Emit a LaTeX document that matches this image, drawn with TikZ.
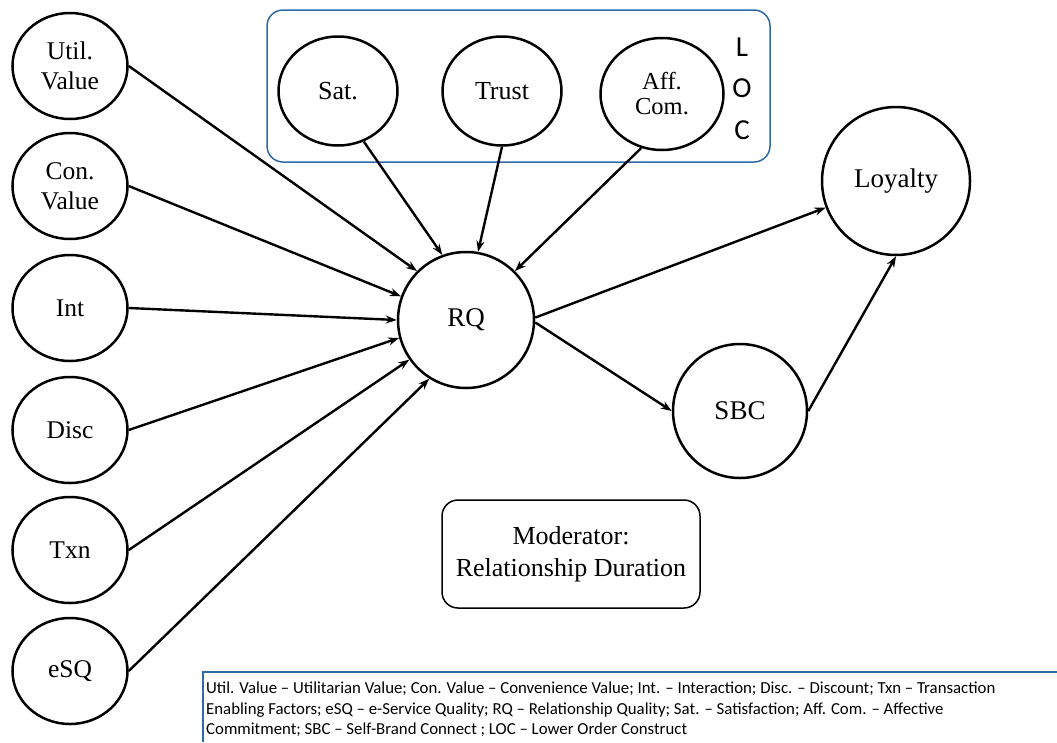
\documentclass[tikz,border=0pt]{standalone}
\usepackage{fontspec}
\setmainfont{Liberation Serif}
\newfontfamily\calib{Carlito}
\usetikzlibrary{arrows.meta,shapes.geometric}
\definecolor{boxblue}{HTML}{2F6BA8}
\begin{document}
\begin{tikzpicture}[x=1pt,y=-1pt,
  every node/.style={inner sep=0pt},
  ell/.style={draw, ellipse, line width=2.5pt, minimum width=115pt, minimum height=106pt, align=center, font=\fontsize{25.5}{30}\selectfont},
  topell/.style={draw, ellipse, line width=2.5pt, minimum width=119pt, minimum height=109pt, align=center, font=\fontsize{26}{26}\selectfont},
  circ/.style={draw, circle, line width=2.5pt, font=\fontsize{27}{32}\selectfont},
  rbox/.style={draw, rounded corners=16pt, line width=1.5pt},
  arr/.style={line width=2.4pt, -{Stealth[length=11pt,width=8pt]}},
  letter/.style={font=\calib\fontsize{29}{29}\selectfont},
]
\useasboundingbox (0,0) rectangle (1057,742);
% left constructs
\node[ell] (util) at (70,66) {Util.\\Value};
\node[ell] (con) at (70,186) {Con.\\Value};
\node[ell] (int) at (70,308) {Int};
\node[ell] (disc) at (70,430) {Disc};
\node[ell] (txn) at (70,550) {Txn};
\node[ell] (esq) at (70,671) {eSQ};
% LOC box
\node[rbox, draw=boxblue, minimum width=503pt, minimum height=152pt] (loc) at (518.5,86) {};
\node[topell] (sat) at (338,91) {Sat.};
\node[topell] (trust) at (502,91) {Trust};
\node[topell, minimum width=123pt, minimum height=112pt, font=\fontsize{24.5}{25}\selectfont] (aff) at (662,94) {Aff.\\Com.};
\node[letter] (l1) at (742,47) {L};
\node[letter] (l2) at (742,88) {O};
\node[letter] (l3) at (742,130) {C};
% central
\node[circ, minimum size=136pt] (rq) at (466,320) {RQ};
\node[circ, minimum size=148pt] (loy) at (896,181) {Loyalty};
\node[circ, minimum size=134pt] (sbc) at (740,411) {SBC};
% moderator
\node[rbox, minimum width=258pt, minimum height=108pt, align=center, font=\fontsize{26}{32}\selectfont] (mod) at (571,554) {Moderator:\\Relationship Duration};
% legend
\draw[boxblue, line width=1.2pt] (1057,672) -- (203,672) -- (203,742);
\node[anchor=north west, align=left, font=\calib\fontsize{16.8}{20.5}\selectfont] (leg) at (206,679) {\strut Util. Value – Utilitarian Value; Con. Value – Convenience Value; Int. – Interaction; Disc. – Discount; Txn – Transaction\\
Enabling Factors; eSQ – e-Service Quality; RQ – Relationship Quality; Sat. – Satisfaction; Aff. Com. – Affective\\
Commitment; SBC – Self-Brand Connect ; LOC – Lower Order Construct};
% connectors
\draw[arr] (util.east) -- (rq.135);
\draw[arr] (con.east) -- (rq.160);
\draw[arr] (int.east) -- (rq.180);
\draw[arr] (disc.east) -- (rq.195);
\draw[arr] (txn.east) -- (rq.215);
\draw[arr] (esq.east) -- (rq.238);
\draw[arr] (sat.-63) -- (rq.110);
\draw[arr] (trust.south) -- (rq.80);
\draw[arr] (aff.-111) -- (rq.45);
\draw[arr] (rq.2) -- (loy);
\draw[arr] (rq.-2) -- (sbc.west);
\draw[arr] (sbc.east) -- (loy.south);
\end{tikzpicture}
\end{document}
